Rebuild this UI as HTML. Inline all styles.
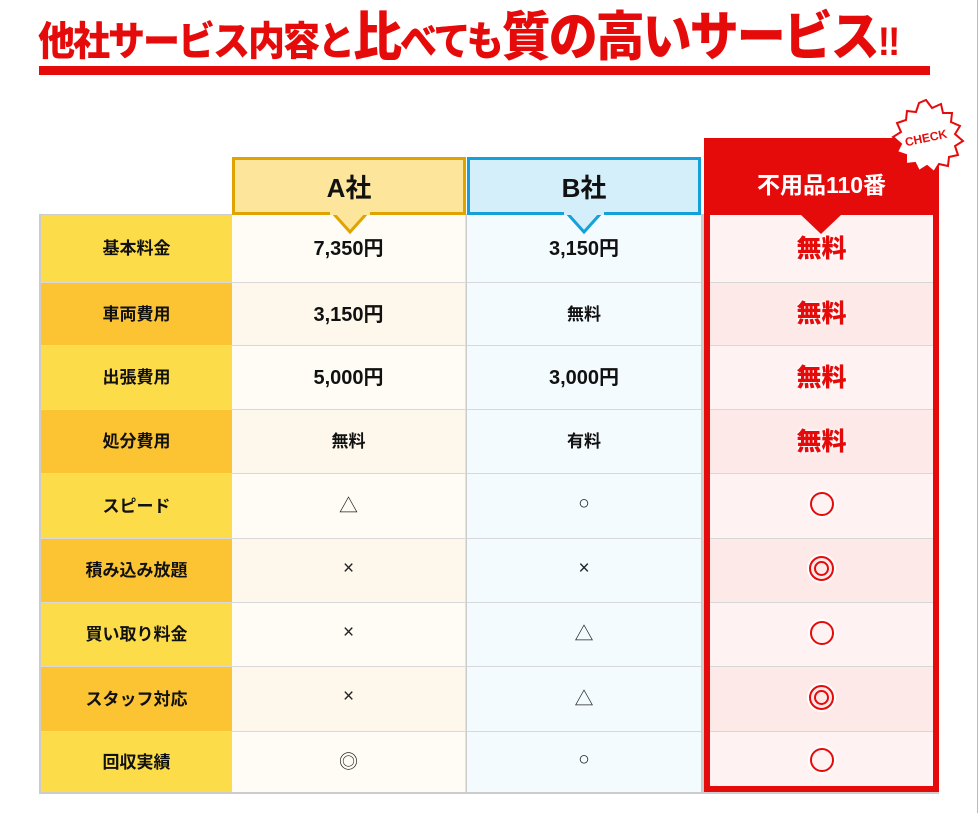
<!DOCTYPE html>
<html><head><meta charset="utf-8"><style>
body{margin:0;width:980px;height:813px;background:#fff;position:relative;overflow:hidden;font-family:"Liberation Sans","Noto Sans CJK JP",sans-serif;}
.abs{position:absolute;}
.title{left:38px;top:14px;width:900px;height:52px;color:#e60b0b;font-weight:900;white-space:nowrap;letter-spacing:-2px;line-height:52px;transform:scaleY(1.08);transform-origin:0 100%;}
.title .s{font-size:37px;}
.title .b{font-size:49px;}
.cell{position:absolute;display:flex;align-items:center;justify-content:center;font-weight:700;box-sizing:border-box;}
.mk{font-size:19px;font-weight:400;color:#222;}
.red{color:#e60b0b;font-size:25px;font-weight:900;text-shadow:0 0 3px #fff,0 0 3px #fff;}
.circ{width:24px;height:24px;border:2px solid #e60b0b;border-radius:50%;box-sizing:border-box;box-shadow:0 0 0 2px #fff;}
.dc{width:25px;height:25px;border:2px solid #e60b0b;border-radius:50%;box-sizing:border-box;display:flex;align-items:center;justify-content:center;box-shadow:0 0 0 2px #fff;}
.dc i{width:15px;height:15px;border:2px solid #e60b0b;border-radius:50%;box-sizing:border-box;}
</style></head><body>
<div class="abs title"><span class="s">他社サービス内容と</span><span class="b">比</span><span class="s">べても</span><span class="b">質の高いサービス</span><span class="s">!!</span></div>
<div class="abs" style="left:39px;top:66px;width:891px;height:9px;background:#e60b0b"></div>
<div class="abs" style="left:977px;top:0;width:1px;height:813px;background:#bbb"></div>

<div class="abs" style="left:39px;top:214px;width:900px;height:580px;background:#ccc"></div>

<div class="cell" style="left:232px;top:157px;width:234px;height:58px;background:#fde59c;border:3px solid #e0a400;font-size:26px;color:#111">A社</div>
<div class="cell" style="left:467px;top:157px;width:234px;height:58px;background:#d4eff9;border:3px solid #14a0d8;font-size:26px;color:#111">B社</div>
<div class="cell" style="left:704px;top:138px;width:235px;height:77px;background:#e60b0b;color:#fff;font-size:23px;padding-top:12px">不用品110番</div>
<svg class="abs" style="left:885px;top:98px" width="82" height="78" viewBox="0 0 82 78">
<polygon fill="#fff" stroke="#e60b0b" stroke-width="2" points="41,2 47,10 56,6 58,15 67,15 66,24 75,28 70,36 78,43 70,48 73,57 64,59 63,68 54,66 49,74 42,68 34,73 30,65 21,66 21,57 12,54 16,46 8,39 16,34 12,25 21,22 22,13 31,14 34,5"/>
<text x="41" y="44" text-anchor="middle" font-size="12" font-weight="700" fill="#e60b0b" transform="rotate(-12 41 40)" font-family="Liberation Sans,sans-serif">CHECK</text>
</svg>

<div id="rows"></div>
<script>
const rows=[["基本料金","7,350円","3,150円","無料"],["車両費用","3,150円","無料","無料"],["出張費用","5,000円","3,000円","無料"],["処分費用","無料","有料","無料"],["スピード","△","○","O"],["積み込み放題","×","×","D"],["買い取り料金","×","△","O"],["スタッフ対応","×","△","D"],["回収実績","◎","○","O"]];
const ys=[215,282,345,409,473,538,602,666,731,792];
let h="";
rows.forEach((r,i)=>{
 const y=ys[i],hh=ys[i+1]-y, alt=i%2;
 const bt=i?'border-top:1px solid #d8d8d8;':'';
 const pad='padding-bottom:4px;';
 h+=`<div class="cell" style="left:41px;top:${y}px;width:191px;height:${hh}px;background:${alt?'#fcc433':'#fddc4a'};font-size:17px;color:#111;${bt}${pad}">${r[0]}</div>`;
 const f=v=>v.length>2?'font-size:20px':(v.length==2?'font-size:17px':'');
 const mk=v=>v.length==1?`<span class="mk">${v}</span>`:v;
 h+=`<div class="cell" style="left:232px;top:${y}px;width:234px;height:${hh}px;background:${alt?'#fef8ec':'#fffcf5'};border-right:1px solid #e2e2e2;color:#111;${f(r[1])};${bt}${pad}">${mk(r[1])}</div>`;
 h+=`<div class="cell" style="left:467px;top:${y}px;width:234px;height:${hh}px;background:#f4fbfe;color:#111;${f(r[2])};${bt}${pad}">${mk(r[2])}</div>`;
 let c=r[3]=="O"?'<div class="circ"></div>':r[3]=="D"?'<div class="dc"><i></i></div>':'<span class="red">無料</span>';
 h+=`<div class="cell" style="left:704px;top:${y}px;width:235px;height:${hh}px;background:${alt?'#fee9e9':'#fff2f2'};${bt}${pad}">${c}</div>`;
});
h+=`<div class="abs" style="left:704px;top:215px;width:235px;height:577px;border:6px solid #e60b0b;border-top:none;box-sizing:border-box"></div>`;
h+=`<div class="abs" style="left:39px;top:792px;width:900px;height:2px;background:#ccc"></div>`;
h+=`<svg class="abs" style="left:330px;top:212px" width="40" height="24"><polygon points="2,0 38,0 20,20" fill="#fde59c" stroke="#e0a400" stroke-width="3"/><rect x="0" y="0" width="40" height="3" fill="#fde59c"/></svg>`;
h+=`<svg class="abs" style="left:564px;top:212px" width="40" height="24"><polygon points="2,0 38,0 20,20" fill="#d4eff9" stroke="#14a0d8" stroke-width="3"/><rect x="0" y="0" width="40" height="3" fill="#d4eff9"/></svg>`;
h+=`<svg class="abs" style="left:800px;top:214px" width="42" height="22"><polygon points="0,0 42,0 21,20" fill="#e60b0b"/></svg>`;
document.getElementById('rows').innerHTML=h;
</script>
</body></html>
